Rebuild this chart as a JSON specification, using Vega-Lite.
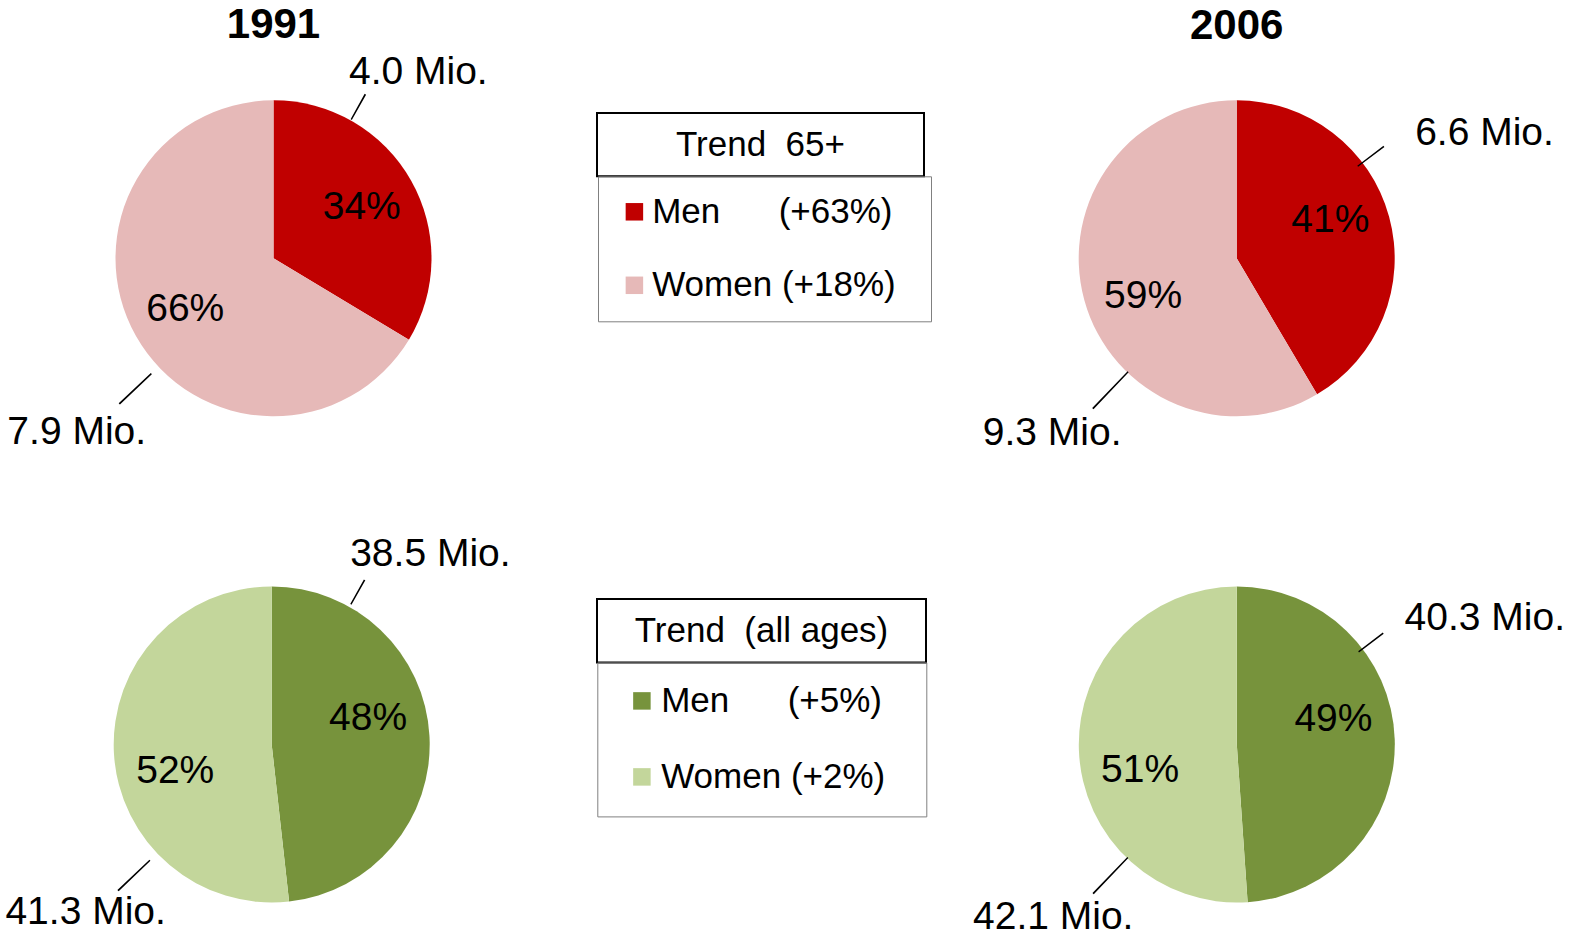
{
  "$schema": "https://vega.github.io/schema/vega-lite/v6.json",
  "padding": {"top": 4, "left": 0, "right": 0, "bottom": 0},
  "background": "white",
  "config": {
    "view": {"stroke": null},
    "font": "Liberation Sans",
    "text": {"font": "Liberation Sans", "color": "black"}
  },
  "columns": 3,
  "align": "each",
  "bounds": "flush",
  "spacing": {"row": 195, "column": 50},
  "resolve": {"scale": {"theta": "independent", "color": "independent"}, "legend": {"color": "independent"}},
  "concat": [
    {
      "width": 547,
      "height": 290.6,
      "title": {"text": "1991", "fontSize": 42, "fontWeight": "bold", "font": "Liberation Sans", "anchor": "middle", "frame": "group", "offset": 6.1, "color": "black"},
      "data": {"values": [
        {"year": "1991", "group": "65+", "sex": "Men", "mio": 4.0, "pct": "34%", "label": "4.0 Mio."},
        {"year": "1991", "group": "65+", "sex": "Women", "mio": 7.9, "pct": "66%", "label": "7.9 Mio."}
      ]},
      "encoding": {
        "theta": {"field": "mio", "type": "quantitative", "stack": true},
        "detail": {"field": "sex", "type": "nominal"},
        "order": {"field": "sex", "type": "ordinal"}
      },
      "layer": [
        {"mark": {"type": "arc", "radius": 158}, "encoding": {"color": {"field": "sex", "type": "nominal", "scale": {"domain": ["Men", "Women"], "range": ["#C00000", "#E6B9B8"]}, "legend": null}}},
        {"mark": {"type": "text", "radius": 102, "thetaOffset": -0.01, "fontSize": 39}, "encoding": {"text": {"field": "pct", "type": "nominal"}}},
        {"mark": {"type": "text", "radius": 235.6, "thetaOffset": -0.394, "fontSize": 39}, "encoding": {"text": {"condition": {"test": "datum.sex === 'Men'", "field": "label", "type": "nominal"}, "value": ""}}},
        {"mark": {"type": "text", "radius": 262.4, "thetaOffset": -0.208, "fontSize": 39}, "encoding": {"text": {"condition": {"test": "datum.sex === 'Women'", "field": "label", "type": "nominal"}, "value": ""}}},
        {
          "transform": [{"stack": "mio", "groupby": [], "sort": [{"field": "sex", "order": "ascending"}], "as": ["s0", "s1"]}, {"filter": "datum.sex === 'Men'"}],
          "mark": {"type": "arc", "radius": 188, "radius2": 159, "thetaOffset": 0.5061, "theta2Offset": -1.5971, "color": "black"},
          "encoding": {"theta": {"field": "s0", "type": "quantitative", "stack": null}, "theta2": {"field": "s1"}}
        },
        {
          "transform": [{"stack": "mio", "groupby": [], "sort": [{"field": "sex", "order": "ascending"}], "as": ["s0", "s1"]}, {"filter": "datum.sex === 'Women'"}],
          "mark": {"type": "arc", "radius": 212, "radius2": 168, "thetaOffset": 1.8394, "theta2Offset": -2.323, "color": "black"},
          "encoding": {"theta": {"field": "s0", "type": "quantitative", "stack": null}, "theta2": {"field": "s1"}}
        }
      ]
    },
    {
      "width": 327,
      "height": 63.3,
      "view": {"stroke": "black", "strokeWidth": 2},
      "layer": [
        {
          "data": {"values": [{"t": "Trend\u00a0\u00a065+"}]},
          "mark": {"type": "text", "fontSize": 35},
          "encoding": {"text": {"field": "t", "type": "nominal"}}
        },
        {
          "data": {"values": [{"entry": "Men\u00a0\u00a0\u00a0\u00a0\u00a0\u00a0(+63%)"}, {"entry": "Women\u00a0(+18%)\u00a0\u2009\u200b"}]},
          "mark": {"type": "text"},
          "encoding": {
            "text": {"value": ""},
            "color": {"field": "entry", "type": "nominal",
              "scale": {"domain": ["Men\u00a0\u00a0\u00a0\u00a0\u00a0\u00a0(+63%)", "Women\u00a0(+18%)\u00a0\u2009\u200b"], "range": ["#C00000", "#E6B9B8"]},
              "legend": {"orient": "none", "legendX": 1, "legendY": 63.3, "direction": "vertical", "title": null,
                "symbolType": "square", "symbolSize": 306, "symbolStrokeWidth": 0, "symbolOpacity": 1, "symbolOffset": 0.9,
                "labelOffset": 0.3, "labelFont": "Liberation Sans", "labelFontSize": 35, "labelColor": "black", "labelLimit": 600,
                "rowPadding": 37.5, "padding": 18, "strokeColor": "#808080"}
            }
          }
        }
      ]
    },
    {
      "width": 521.4,
      "height": 290.6,
      "title": {"text": "2006", "fontSize": 42, "fontWeight": "bold", "font": "Liberation Sans", "anchor": "middle", "frame": "group", "offset": 17.1, "color": "black"},
      "data": {"values": [
        {"year": "2006", "group": "65+", "sex": "Men", "mio": 6.6, "pct": "41%", "label": "6.6 Mio."},
        {"year": "2006", "group": "65+", "sex": "Women", "mio": 9.3, "pct": "59%", "label": "9.3 Mio."}
      ]},
      "encoding": {
        "theta": {"field": "mio", "type": "quantitative", "stack": true},
        "detail": {"field": "sex", "type": "nominal"},
        "order": {"field": "sex", "type": "ordinal"}
      },
      "layer": [
        {"mark": {"type": "arc", "radius": 158}, "encoding": {"color": {"field": "sex", "type": "nominal", "scale": {"domain": ["Men", "Women"], "range": ["#C00000", "#E6B9B8"]}, "legend": null}}},
        {"mark": {"type": "text", "radius": 101, "thetaOffset": -0.117, "fontSize": 39}, "encoding": {"text": {"field": "pct", "type": "nominal"}}},
        {"mark": {"type": "text", "radius": 277.6, "thetaOffset": -0.2007, "fontSize": 39}, "encoding": {"text": {"condition": {"test": "datum.sex === 'Men'", "field": "label", "type": "nominal"}, "value": ""}}},
        {"mark": {"type": "text", "radius": 254, "thetaOffset": -0.4904, "fontSize": 39}, "encoding": {"text": {"condition": {"test": "datum.sex === 'Women'", "field": "label", "type": "nominal"}, "value": ""}}},
        {
          "transform": [{"stack": "mio", "groupby": [], "sort": [{"field": "sex", "order": "ascending"}], "as": ["s0", "s1"]}, {"filter": "datum.sex === 'Men'"}],
          "mark": {"type": "arc", "radius": 185, "radius2": 152, "thetaOffset": 0.9163, "theta2Offset": -1.6831, "color": "black"},
          "encoding": {"theta": {"field": "s0", "type": "quantitative", "stack": null}, "theta2": {"field": "s1"}}
        },
        {
          "transform": [{"stack": "mio", "groupby": [], "sort": [{"field": "sex", "order": "ascending"}], "as": ["s0", "s1"]}, {"filter": "datum.sex === 'Women'"}],
          "mark": {"type": "arc", "radius": 208, "radius2": 157, "thetaOffset": 1.2927, "theta2Offset": -2.3736, "color": "black"},
          "encoding": {"theta": {"field": "s0", "type": "quantitative", "stack": null}, "theta2": {"field": "s1"}}
        }
      ]
    },
    {
      "width": 543.4,
      "height": 291,
      "data": {"values": [
        {"year": "1991", "group": "all ages", "sex": "Men", "mio": 38.5, "pct": "48%", "label": "38.5 Mio."},
        {"year": "1991", "group": "all ages", "sex": "Women", "mio": 41.3, "pct": "52%", "label": "41.3 Mio."}
      ]},
      "encoding": {
        "theta": {"field": "mio", "type": "quantitative", "stack": true},
        "detail": {"field": "sex", "type": "nominal"},
        "order": {"field": "sex", "type": "ordinal"}
      },
      "layer": [
        {"mark": {"type": "arc", "radius": 158}, "encoding": {"color": {"field": "sex", "type": "nominal", "scale": {"domain": ["Men", "Women"], "range": ["#77933C", "#C3D69B"]}, "legend": null}}},
        {"mark": {"type": "text", "radius": 100, "thetaOffset": -0.2129, "fontSize": 39}, "encoding": {"text": {"field": "pct", "type": "nominal"}}},
        {"mark": {"type": "text", "radius": 248.2, "thetaOffset": -0.8221, "fontSize": 39}, "encoding": {"text": {"condition": {"test": "datum.sex === 'Men'", "field": "label", "type": "nominal"}, "value": ""}}},
        {"mark": {"type": "text", "radius": 250.6, "thetaOffset": -0.6789, "fontSize": 39}, "encoding": {"text": {"condition": {"test": "datum.sex === 'Women'", "field": "label", "type": "nominal"}, "value": ""}}},
        {
          "transform": [{"stack": "mio", "groupby": [], "sort": [{"field": "sex", "order": "ascending"}], "as": ["s0", "s1"]}, {"filter": "datum.sex === 'Men'"}],
          "mark": {"type": "arc", "radius": 189, "radius2": 161, "thetaOffset": 0.5096, "theta2Offset": -2.513, "color": "black"},
          "encoding": {"theta": {"field": "s0", "type": "quantitative", "stack": null}, "theta2": {"field": "s1"}}
        },
        {
          "transform": [{"stack": "mio", "groupby": [], "sort": [{"field": "sex", "order": "ascending"}], "as": ["s0", "s1"]}, {"filter": "datum.sex === 'Women'"}],
          "mark": {"type": "arc", "radius": 212, "radius2": 168, "thetaOffset": 0.9166, "theta2Offset": -2.3265, "color": "black"},
          "encoding": {"theta": {"field": "s0", "type": "quantitative", "stack": null}, "theta2": {"field": "s1"}}
        }
      ]
    },
    {
      "width": 329,
      "height": 63.4,
      "view": {"stroke": "black", "strokeWidth": 2},
      "layer": [
        {
          "data": {"values": [{"t": "Trend\u00a0\u00a0(all ages)"}]},
          "mark": {"type": "text", "fontSize": 35},
          "encoding": {"text": {"field": "t", "type": "nominal"}}
        },
        {
          "data": {"values": [{"entry": "Men\u00a0\u00a0\u00a0\u00a0\u00a0\u00a0(+5%)"}, {"entry": "Women\u00a0(+2%)\u00a0\u00a0\u200b"}]},
          "mark": {"type": "text"},
          "encoding": {
            "text": {"value": ""},
            "color": {"field": "entry", "type": "nominal",
              "scale": {"domain": ["Men\u00a0\u00a0\u00a0\u00a0\u00a0\u00a0(+5%)", "Women\u00a0(+2%)\u00a0\u00a0\u200b"], "range": ["#77933C", "#C3D69B"]},
              "legend": {"orient": "none", "legendX": 0.3, "legendY": 63.4, "direction": "vertical", "title": null,
                "symbolType": "square", "symbolSize": 306, "symbolStrokeWidth": 0, "symbolOpacity": 1, "symbolOffset": 6.1,
                "labelOffset": 1.8, "labelFont": "Liberation Sans", "labelFontSize": 35, "labelColor": "black", "labelLimit": 600,
                "rowPadding": 40, "padding": 21, "strokeColor": "#808080"}
            }
          }
        }
      ]
    },
    {
      "width": 521.6,
      "height": 291,
      "data": {"values": [
        {"year": "2006", "group": "all ages", "sex": "Men", "mio": 40.3, "pct": "49%", "label": "40.3 Mio."},
        {"year": "2006", "group": "all ages", "sex": "Women", "mio": 42.1, "pct": "51%", "label": "42.1 Mio."}
      ]},
      "encoding": {
        "theta": {"field": "mio", "type": "quantitative", "stack": true},
        "detail": {"field": "sex", "type": "nominal"},
        "order": {"field": "sex", "type": "ordinal"}
      },
      "layer": [
        {"mark": {"type": "arc", "radius": 158}, "encoding": {"color": {"field": "sex", "type": "nominal", "scale": {"domain": ["Men", "Women"], "range": ["#77933C", "#C3D69B"]}, "legend": null}}},
        {"mark": {"type": "text", "radius": 100, "thetaOffset": -0.2251, "fontSize": 39}, "encoding": {"text": {"field": "pct", "type": "nominal"}}},
        {"mark": {"type": "text", "radius": 278.3, "thetaOffset": -0.4369, "fontSize": 39}, "encoding": {"text": {"condition": {"test": "datum.sex === 'Men'", "field": "label", "type": "nominal"}, "value": ""}}},
        {"mark": {"type": "text", "radius": 251.7, "thetaOffset": -0.7191, "fontSize": 39}, "encoding": {"text": {"condition": {"test": "datum.sex === 'Women'", "field": "label", "type": "nominal"}, "value": ""}}},
        {
          "transform": [{"stack": "mio", "groupby": [], "sort": [{"field": "sex", "order": "ascending"}], "as": ["s0", "s1"]}, {"filter": "datum.sex === 'Men'"}],
          "mark": {"type": "arc", "radius": 184, "radius2": 153, "thetaOffset": 0.9163, "theta2Offset": -2.148, "color": "black"},
          "encoding": {"theta": {"field": "s0", "type": "quantitative", "stack": null}, "theta2": {"field": "s1"}}
        },
        {
          "transform": [{"stack": "mio", "groupby": [], "sort": [{"field": "sex", "order": "ascending"}], "as": ["s0", "s1"]}, {"filter": "datum.sex === 'Women'"}],
          "mark": {"type": "arc", "radius": 207, "radius2": 157, "thetaOffset": 0.8313, "theta2Offset": -2.3701, "color": "black"},
          "encoding": {"theta": {"field": "s0", "type": "quantitative", "stack": null}, "theta2": {"field": "s1"}}
        }
      ]
    }
  ]
}
